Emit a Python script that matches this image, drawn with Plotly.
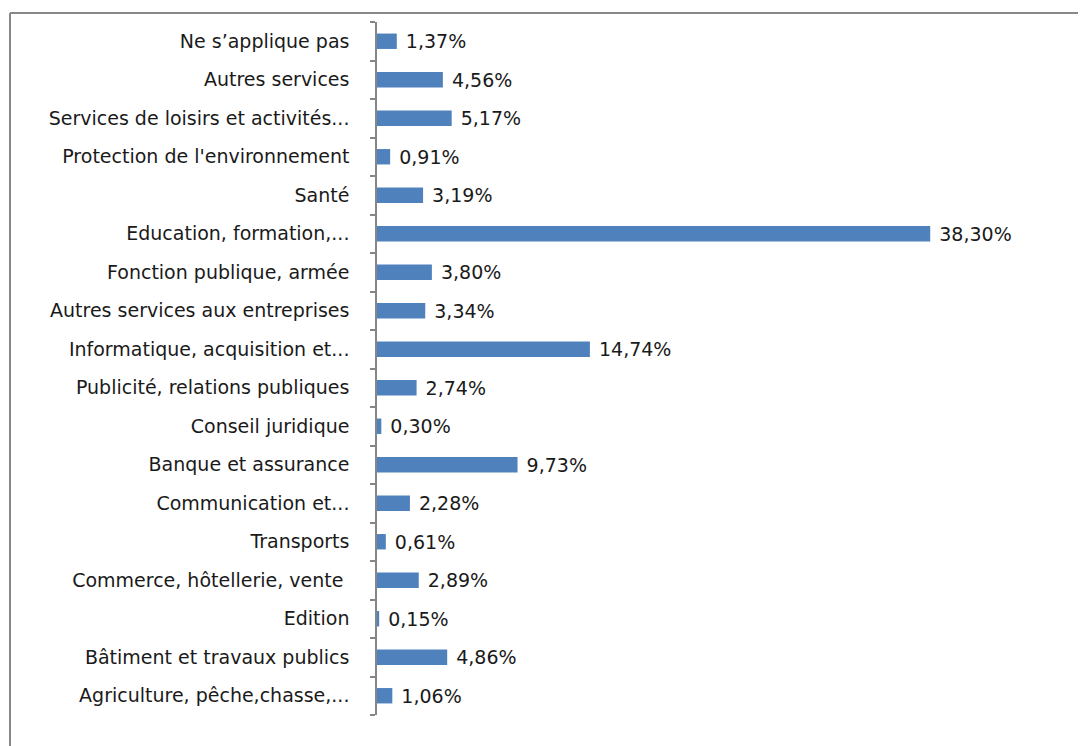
import plotly.graph_objects as go

categories = [
    "Agriculture, pêche,chasse,...",
    "Bâtiment et travaux publics",
    "Edition",
    "Commerce, hôtellerie, vente ",
    "Transports",
    "Communication et...",
    "Banque et assurance",
    "Conseil juridique",
    "Publicité, relations publiques",
    "Informatique, acquisition et...",
    "Autres services aux entreprises",
    "Fonction publique, armée",
    "Education, formation,...",
    "Santé",
    "Protection de l'environnement",
    "Services de loisirs et activités...",
    "Autres services",
    "Ne s\u2019applique pas",
]
values = [1.06, 4.86, 0.15, 2.89, 0.61, 2.28, 9.73, 0.30, 2.74, 14.74,
          3.34, 3.80, 38.30, 3.19, 0.91, 5.17, 4.56, 1.37]
labels = [" " + f"{v:.2f}%".replace(".", ",") for v in values]

FONT = "DejaVu Sans"
fig = go.Figure(go.Bar(
    x=values, y=categories, orientation="h",
    marker=dict(color="#4F81BD", line=dict(width=0)),
    text=labels, textposition="outside", cliponaxis=False,
    constraintext="none",
    textfont=dict(family=FONT, size=19, color="#1a1a1a"),
))

OFF = 8  # page body margin
W, H = 1086 - OFF, 746 - OFF
L, R, T, B = 377 - OFF, 1027 - OFF, 22 - OFF, 715 - OFF
fig.update_layout(
    width=W, height=H,
    margin=dict(l=L, r=W - R, t=T, b=H - B),
    plot_bgcolor="white", paper_bgcolor="white",
    bargap=0.6, showlegend=False,
    font=dict(family=FONT, size=19, color="#1a1a1a"),
    xaxis=dict(range=[0, 45], visible=False, showgrid=False, zeroline=False),
    yaxis=dict(
        type="category", showline=True, linecolor="#868686", linewidth=1.5,
        ticks="outside", tickson="boundaries", ticklen=5, tickcolor="#868686",
        tickwidth=1.5, showgrid=False, ticklabelstandoff=22,
        tickfont=dict(family=FONT, size=19, color="#1a1a1a"),
    ),
    shapes=[
        dict(type="line", xref="paper", yref="paper",
             x0=(2 - L) / (R - L), x1=(W + 20 - L) / (R - L),
             y0=(B - 5) / (B - T), y1=(B - 5) / (B - T),
             line=dict(color="#888888", width=2)),
        dict(type="line", xref="paper", yref="paper",
             x0=(2 - L) / (R - L), x1=(2 - L) / (R - L),
             y0=(B - 5) / (B - T), y1=(B - H - 20) / (B - T),
             line=dict(color="#888888", width=2)),
    ],
)

fig.write_html("out.html")
